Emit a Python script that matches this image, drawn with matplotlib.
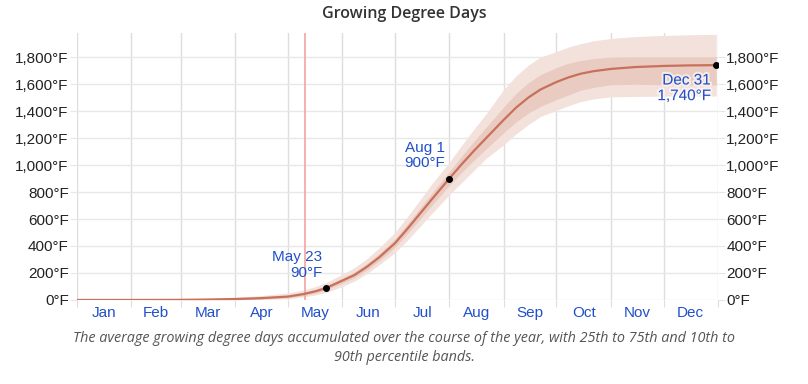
import matplotlib
matplotlib.use("Agg")
import matplotlib.pyplot as plt
import matplotlib.patheffects as pe

# day of year (0 = Jan 1) and average accumulated GDD (°F)
days = [0, 31, 59, 73, 90, 104, 120, 129, 136, 142, 151, 158, 165, 172,
        181, 188, 195, 202, 212, 219, 226, 233, 243, 250, 257, 264, 273,
        280, 287, 294, 304, 318, 334, 348, 364]
gdd_avg = [0, 0, 1, 3, 7, 13, 25, 44, 65, 90, 143, 185, 245, 315,
           420, 525, 635, 745, 900, 1005, 1105, 1200, 1335, 1425, 1500, 1560, 1615,
           1650, 1677, 1695, 1712, 1726, 1734, 1738, 1740]
# 25th / 75th percentile band
p25 = [0, 0, 0, 1, 3, 7, 17, 33, 52, 75, 125, 165, 222, 290,
       390, 490, 595, 700, 850, 945, 1035, 1120, 1240, 1320, 1385, 1435, 1485,
       1520, 1555, 1575, 1595, 1598, 1595, 1594, 1593]
p75 = [0, 0, 2, 5, 12, 20, 35, 56, 80, 106, 162, 207, 270, 342,
       452, 560, 675, 790, 950, 1065, 1175, 1280, 1430, 1530, 1610, 1670, 1722,
       1755, 1775, 1788, 1800, 1802, 1802, 1802, 1802]
# 10th / 90th percentile band
p10 = [0, 0, 0, 0, 1, 4, 9, 23, 38, 56, 100, 140, 195, 260,
       350, 440, 540, 640, 780, 870, 960, 1050, 1150, 1230, 1300, 1360, 1405,
       1440, 1470, 1490, 1505, 1508, 1510, 1511, 1511]
p90 = [0, 1, 4, 9, 20, 32, 52, 75, 100, 130, 190, 240, 305, 385,
       500, 615, 735, 860, 1020, 1145, 1265, 1380, 1560, 1660, 1740, 1800, 1840,
       1875, 1900, 1920, 1938, 1952, 1960, 1965, 1968]

month_starts = [0, 31, 59, 90, 120, 151, 181, 212, 243, 273, 304, 334, 365]
months = ["Jan", "Feb", "Mar", "Apr", "May", "Jun",
          "Jul", "Aug", "Sep", "Oct", "Nov", "Dec"]
y_ticks = list(range(0, 1801, 200))

today = 130  # light red marker line
highlights = [(142, 90, "May 23\n90°F"), (212, 900, "Aug 1\n900°F"),
              (364, 1740, "Dec 31\n1,740°F")]

text_blue = "#2150c8"
label_font = ["Liberation Sans", "DejaVu Sans"]

fig = plt.figure(figsize=(8.08, 3.84), dpi=100)
ax = fig.add_axes([0.0953, 0.2188, 0.7933, 0.6952])

ax.fill_between(days, p10, p90, color="#f3e1dc", lw=0, zorder=1)
ax.fill_between(days, p25, p75, color="#e9cbc2", lw=0, zorder=2)
ax.plot(days, gdd_avg, color="#c8705a", lw=1.6, zorder=3)
ax.axvline(today, color="#f4a3a3", lw=1.2, zorder=2.5)

for d, v, txt in highlights:
    ax.plot(d, v, "o", color="black", ms=4, zorder=5)
    if d == 364:
        ax.annotate(txt, (d, v), xytext=(-4, -6), textcoords="offset points",
                    ha="right", va="top", color=text_blue, fontsize=11,
                    family=label_font, linespacing=1.15, zorder=6,
                    path_effects=[pe.withStroke(linewidth=3, foreground="white", alpha=0.6)])
    else:
        ax.annotate(txt, (d, v), xytext=(-3, 6), textcoords="offset points",
                    ha="right", va="bottom", color=text_blue, fontsize=11,
                    family=label_font, linespacing=1.15, zorder=6)

ax.set_xlim(0, 365)
ax.set_ylim(0, 1978)

ax.set_xticks(month_starts)
ax.set_xticklabels([])
mids = [(a + b) / 2 for a, b in zip(month_starts[:-1], month_starts[1:])]
ax.set_xticks(mids, minor=True)
ax.set_xticklabels(months, minor=True, color=text_blue, fontsize=11, family=label_font)
ax.tick_params(axis="x", which="major", length=5, color="#dddddd")
ax.tick_params(axis="x", which="minor", length=0, pad=4)

ax.set_yticks(y_ticks)
ax.set_yticklabels([f"{v:,}°F" for v in y_ticks], fontsize=11, family=label_font, color="#222222")
ax.tick_params(axis="y", length=5, color="#e6e6e6", pad=1)

ax.grid(True, axis="x", color="#dddddd", lw=1)
ax.grid(True, axis="y", color="#e8e8e8", lw=1)
ax.set_axisbelow(True)
for s in ax.spines.values():
    s.set_visible(False)

ax2 = ax.twinx()
ax2.set_ylim(ax.get_ylim())
ax2.set_yticks(y_ticks)
ax2.set_yticklabels([f"{v:,}°F" for v in y_ticks], fontsize=11, family=label_font, color="#222222")
ax2.tick_params(axis="y", length=5, color="#e6e6e6", pad=1)
for s in ax2.spines.values():
    s.set_visible(False)

fig.text(0.5, 0.963, "Growing Degree Days", ha="center", va="center",
         fontsize=11.5, fontweight="semibold", color="#333333", family=["Open Sans", "DejaVu Sans"])
fig.text(0.5, 0.093, "The average growing degree days accumulated over the course of the year, with 25th to 75th and 10th to\n90th percentile bands.",
         ha="center", va="center", fontsize=10.4, style="italic", color="#555555",
         family=["Open Sans", "DejaVu Sans"], linespacing=1.35)

fig.savefig("out.png", dpi=100)
